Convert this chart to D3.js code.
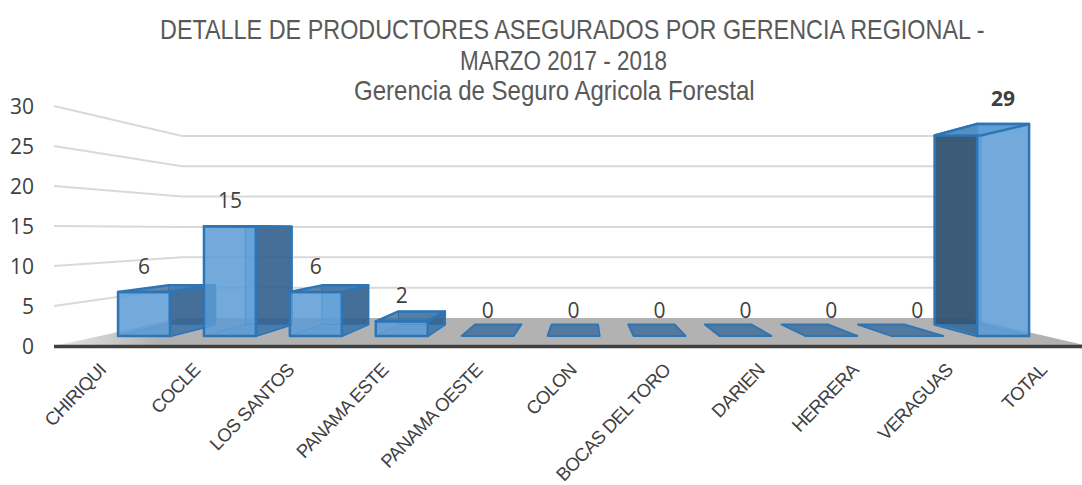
<!DOCTYPE html>
<html><head><meta charset="utf-8">
<script src="https://cdn.jsdelivr.net/npm/d3@7"></script>
<style>html,body{margin:0;padding:0;background:#fff}svg{display:block}</style>
</head><body><svg id="c" width="1082" height="485"></svg>
<script>
const categories=["CHIRIQUI","COCLE","LOS SANTOS","PANAMA ESTE","PANAMA OESTE","COLON","BOCAS DEL TORO","DARIEN","HERRERA","VERAGUAS","TOTAL"];
const values=[6,15,6,2,0,0,0,0,0,0,29];
const yTicks=[0,5,10,15,20,25,30];
const titleLines=[
 {text:"DETALLE DE PRODUCTORES ASEGURADOS POR GERENCIA REGIONAL -",x:160,w:825,y:39},
 {text:"MARZO 2017 - 2018",x:460,w:207,y:70},
 {text:"Gerencia de Seguro Agricola Forestal",x:354,w:401,y:100}];

const svg=d3.select("#c");
const leftX=d3.scaleLinear().domain([0,1]).range([54,182]);
const rightX=d3.scaleLinear().domain([0,1]).range([1089,967]);
const baseY=d3.scaleLinear().domain([0,1]).range([346,318]);
const unit=d3.scaleLinear().domain([0,1]).range([8,6.07]);
const band=d3.scaleBand().domain(categories).range([0,1]);
const barShare=0.605, tFront=0.36, tBack=0.77, nudge=1;
function px(i,side,t){
  const u=band(categories[i])+band.bandwidth()*(0.5+side*barShare/2);
  return d3.scaleLinear().domain([0,1]).range([leftX(t),rightX(t)])(u)+nudge;
}
function py(v,t){return baseY(t)-v*unit(t);}
function P(i,s,t,v){return [px(i,s,t),py(v,t)];}
const line=d3.line();

const gridG=svg.append("g").attr("fill","none").attr("stroke","#d9d9d9").attr("stroke-width",2);
yTicks.filter(v=>v>0).forEach(v=>{
  gridG.append("path").attr("d",line([[leftX(0),py(v,0)],[leftX(1),py(v,1)],[rightX(1),py(v,1)]]));
});
const defs=svg.append("defs");
const g=defs.append("linearGradient").attr("id","fl").attr("x1",0).attr("x2",1).attr("y1",0).attr("y2",0);
g.append("stop").attr("offset",0).attr("stop-color","#e8e8e8");
g.append("stop").attr("offset",0.1).attr("stop-color","#b2b2b2");
g.append("stop").attr("offset",1).attr("stop-color","#b2b2b2");
svg.append("path").attr("fill","url(#fl)")
 .attr("d",line([[leftX(0),baseY(0)],[leftX(1),baseY(1)],[rightX(1),baseY(1)],[rightX(0),baseY(0)]])+"Z");
svg.append("line").attr("x1",54).attr("x2",1082).attr("y1",346.5).attr("y2",346.5).attr("stroke","#404040").attr("stroke-width",3.5);

const stroke="#2e75b6";
values.forEach((v,i)=>{
  const b=svg.append("g").attr("stroke",stroke).attr("stroke-linejoin","round");
  const poly=(pts,fill,op,sw)=>b.append("path").attr("d",line(pts)+"Z").attr("fill",fill).attr("fill-opacity",op).attr("stroke-width",sw);
  const fb=P(i,-1,tFront,0),fbr=P(i,1,tFront,0),bb=P(i,-1,tBack,0),bbr=P(i,1,tBack,0);
  const ft=P(i,-1,tFront,v),ftr=P(i,1,tFront,v),bt=P(i,-1,tBack,v),btr=P(i,1,tBack,v);
  if(v===0){ poly([fb,fbr,bbr,bb],"#3a6c9c",0.8,2); return; }
  poly([bb,bbr,btr,bt],"#5b9bd5",0.5,1);
  if(i<5) poly([fbr,bbr,btr,ftr],"#2a5783",0.8,2.5);
  else    poly([fb,bb,bt,ft],"#304f6c",0.9,2.5);
  poly([fb,fbr,bbr,bb],"#5b9bd5",0.35,0.8);
  poly([ft,ftr,fbr,fb],"#5b9bd5",0.85,2.5);
  poly([ft,ftr,btr,bt],i<5?"#3a6c9c":"#5b9bd5",0.8,2.5);
});

const center=i=>(px(i,-1,tFront)+px(i,1,tFront))/2;
svg.append("g").selectAll("text").data(values).join("text")
 .attr("x",(d,i)=>center(i)).attr("y",d=>py(d,tFront)-18)
 .attr("text-anchor","middle").attr("fill","#404040")
 .style("font-family","'Open Sans'").style("font-size","21px")
 .style("font-weight",d=>d===29?"700":"400").text(d=>d);

const tickY=d3.scaleLinear().domain([0,30]).range([346,106]);
svg.append("g").selectAll("text").data(yTicks).join("text")
 .attr("x",34).attr("y",d=>tickY(d)+8).attr("text-anchor","end").attr("fill","#404040")
 .style("font-family","'Open Sans'").style("font-size","21px").text(d=>d);

const catX=d3.scaleBand().domain(categories).range([leftX(0),rightX(0)]);
svg.append("g").selectAll("text").data(categories).join("text")
 .attr("text-anchor","end").attr("fill","#404040")
 .attr("transform",d=>`translate(${catX(d)+catX.bandwidth()/2+6},${371}) rotate(-46)`)
 .style("font-family","'Liberation Sans'").style("font-size","18.5px").style("letter-spacing","-0.6px").text(d=>d);

// title lines squeezed horizontally to the reference's condensed widths
svg.append("g").selectAll("text").data(titleLines).join("text")
 .attr("fill","#595959").style("font-family","'Liberation Sans'").style("font-size","28px").text(d=>d.text)
 .attr("transform",function(d){return `translate(${d.x},${d.y}) scale(${d.w/this.getComputedTextLength()},1)`;});
</script></body></html>
